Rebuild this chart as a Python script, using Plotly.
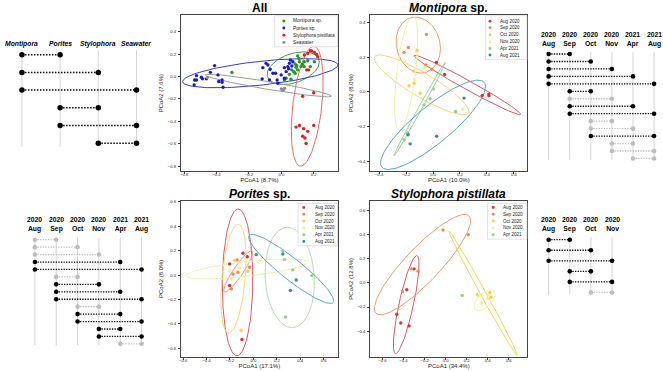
import numpy as np
import plotly.graph_objects as go
from itertools import combinations

W, H = 663, 371
FONT = "Liberation Sans, Arial, Helvetica, sans-serif"

# ====================== DATA ======================
# ---- "All" PCoA panel ----
all_groups = ["Montipora sp.", "Porites sp.", "Stylophora pistillata", "Seawater"]
all_colors = ["#1f9a26", "#1a1ac8", "#dd2020", "#8c8c8c"]
all_mont_x = [-0.305, 0.101, 0.112, 0.085, 0.091, 0.077, 0.085, 0.101, 0.122, 0.142, 0.142,
              0.163, 0.179, 0.204, 0.030, 0.019, 0.060, 0.064, 0.110, 0.095, 0.050, 0.130]
all_mont_y = [0.036, 0.184, 0.133, 0.112, 0.083, 0.044, 0.030, 0.060, 0.089, 0.133, 0.089,
              0.142, 0.089, 0.133, -0.015, -0.030, -0.024, 0.060, 0.160, 0.100, 0.020, 0.110]
all_por_x = [-0.412, -0.438, -0.524, -0.538, -0.494, -0.487, -0.463, -0.391, -0.366, -0.360,
             -0.366, -0.387, -0.535, -0.524, -0.114, -0.118, -0.094, -0.083, -0.069, -0.052,
             -0.036, -0.022, -0.026, -0.001, 0.019, 0.030, 0.050, 0.056, 0.040, 0.065, 0.071,
             0.045, 0.019, -0.073]
all_por_y = [0.098, 0.038, -0.030, -0.074, -0.006, -0.020, -0.020, 0.015, -0.030, -0.095,
             -0.050, -0.044, -0.030, 0.009, 0.080, -0.020, 0.118, 0.104, 0.065, 0.030,
             0.030, -0.060, -0.030, 0.015, -0.015, 0.044, 0.118, 0.148, 0.089, 0.095, 0.133,
             0.070, 0.080, -0.030]
all_sty_x = [0.163, 0.188, 0.204, 0.218, 0.225, 0.142, 0.157, 0.169, 0.132, 0.200, 0.091,
             0.112, 0.138, 0.163, 0.200, 0.132, 0.146, 0.153, 0.179]
all_sty_y = [0.207, 0.228, 0.216, 0.198, 0.178, 0.193, 0.060, 0.060, -0.175, -0.145, -0.451,
             -0.436, -0.465, -0.489, -0.436, -0.533, -0.548, -0.598, 0.231]
all_sea_x = [-0.457, 0.000, 0.012, 0.020, 0.008]
all_sea_y = [-0.009, -0.110, -0.120, -0.105, -0.125]
# ellipse parameters: (cx, cy, ax, ay, bx, by)
all_ellipses = [(0.074, 0.075, 0.161, 0.055, 0.0, 0.135),
                (-0.13, 0.03, 0.48, 0.074, 0.0, 0.107),
                (0.16, -0.265, 0.04, 0.535, 0.09, 0.0),
                (-0.08, -0.08, 0.39, -0.095, 0.0, 0.035)]

# ---- month labels/colours ----
months = ["Aug 2020", "Sep 2020", "Oct 2020", "Nov 2020", "Apr 2021", "Aug 2021"]
month_colors = ["#d0363f", "#f4874f", "#fdc85f", "#eef190", "#93d08e", "#2f8ea6"]

# ---- Montipora sp. panel ----
mont_x = [[0.025, 0.086, 0.365, 0.415, 0.415],
          [-0.049, -0.183, -0.215, -0.054, -0.010],
          [-0.146, -0.141, -0.178, -0.096, -0.120],
          [0.220, -0.060, -0.140],
          [0.002, -0.022, -0.067, 0.168, -0.190, -0.215],
          [0.230, 0.027, -0.185, -0.170]]
mont_y = [[0.170, 0.100, -0.021, -0.013, -0.023],
          [0.331, 0.256, 0.228, 0.155, 0.130],
          [0.120, 0.050, 0.035, -0.008, 0.240],
          [-0.100, 0.140, 0.070],
          [0.017, -0.040, -0.075, -0.113, -0.237, -0.276],
          [-0.036, -0.256, -0.247, -0.300]]
mont_ellipses = [(0.255, 0.04, 0.395, -0.169, 0.0, 0.03),
                 (-0.11, 0.27, 0.165, -0.02, 0.0, 0.16),
                 (-0.085, 0.04, 0.352, -0.153, 0.0, 0.08),
                 (-0.20, 0.11, 0.05, 0.33, 0.07, 0.0),
                 (-0.10, -0.10, 0.19, 0.27, 0.015, 0.0),
                 (0.0, -0.19, 0.39, 0.22, 0.0, 0.134)]

# ---- Porites sp. panel ----
por_x = [[-0.203, -0.089, -0.052, -0.203, -0.098],
         [-0.140, -0.174, -0.033, -0.189, -0.132],
         [-0.104, -0.047, -0.160],
         [-0.189, -0.203, -0.120],
         [0.251, 0.265, 0.336, 0.499, 0.274],
         [0.024, 0.251, 0.365, 0.316]]
por_y = [[0.091, 0.178, 0.150, -0.085, -0.527],
         [0.123, 0.009, 0.064, -0.113, 0.023],
         [-0.451, 0.031, 0.120],
         [-0.031, 0.037, 0.060],
         [0.199, 0.126, 0.042, -0.004, -0.343],
         [0.167, 0.172, -0.040, -0.126]]
por_ellipses = [(-0.135, -0.06, 0.005, 0.60, 0.13, 0.0),
                (-0.13, 0.03, 0.113, 0.17, 0.05, 0.0),
                (-0.17, -0.03, 0.04, 0.445, 0.10, 0.0),
                (-0.055, 0.05, 0.52, 0.055, 0.0, 0.06),
                (0.31, -0.02, -0.02, 0.41, 0.21, 0.0),
                (0.322, 0.05, 0.363, -0.26, 0.0, 0.11)]

# ---- Stylophora pistillata panel ----
sty_x = [[-0.369, -0.464, -0.426, -0.347, -0.300],
         [-0.325, -0.262, -0.410, -0.025, 0.215],
         [0.300, 0.420, 0.430],
         [0.322, 0.338, 0.400, 0.410],
         [0.158]]
sty_y = [[-0.058, -0.260, -0.332, -0.356, 0.115],
         [0.115, 0.096, -0.071, 0.436, 0.397],
         [-0.100, -0.080, -0.120],
         [-0.104, -0.167, -0.130, -0.100],
         [-0.104]]
sty_ellipses = [(-0.375, -0.18, 0.10, 0.405, 0.07, 0.0),
                (-0.22, 0.15, 0.457, 0.363, 0.0, 0.20),
                (0.355, -0.085, 0.323, -0.513, 0.03, 0.0),
                (0.37, -0.145, 0.10, 0.05, 0.0, 0.07)]

# ---- pairwise comparison panels ----
site_labels = ["Montipora", "Porites", "Stylophora", "Seawater"]
site_sig = [1, 1, 1, 1, 1, 1]
month_years = ["2020", "2020", "2020", "2020", "2021", "2021"]
month_names = ["Aug", "Sep", "Oct", "Nov", "Apr", "Aug"]
mont_sig = [1, 1, 1, 1, 1, 1, 0, 1, 1, 0, 0, 1, 0, 0, 0]
por_sig = [0, 0, 0, 1, 1, 0, 1, 1, 1, 0, 1, 1, 1, 1, 0]
sty_sig = [1, 1, 1, 1, 1, 0]

# ====================== FIGURE ======================
fig = go.Figure()
annotations = []
shapes = []


def px2fx(px):
    return px / W


def px2fy(py):
    return 1 - py / H


def ellipse_xy(p, n=120):
    cx, cy, ax, ay, bx, by = p
    t = np.linspace(0, 2 * np.pi, n)
    return cx + ax * np.cos(t) + bx * np.sin(t), cy + ay * np.cos(t) + by * np.sin(t)


def axis_names(i):
    return ("x" if i == 1 else f"x{i}"), ("y" if i == 1 else f"y{i}")


def add_pcoa(idx, xs, ys, ells, colors, ell_colors):
    xa, ya = axis_names(idx)
    for k, e in enumerate(ells):
        ex, ey = ellipse_xy(e)
        fig.add_trace(go.Scatter(x=ex, y=ey, mode="lines", xaxis=xa, yaxis=ya,
                                 line=dict(color=ell_colors[k], width=1), hoverinfo="skip"))
    for k in range(len(xs)):
        fig.add_trace(go.Scatter(x=xs[k], y=ys[k], mode="markers", xaxis=xa, yaxis=ya,
                                 marker=dict(color=colors[k], size=3.4, line=dict(width=0))))


def pcoa_axes(idx, box, xr, yr, xticks, yticks, xtitle, ytitle):
    x0, x1, y0, y1 = box
    common = dict(showline=True, mirror=True, linecolor="#444444", linewidth=0.8,
                  ticks="outside", ticklen=2, tickwidth=0.6, tickcolor="#444444",
                  showgrid=False, zeroline=False, tickformat=".1f",
                  tickfont=dict(size=4.2, family=FONT, color="#222"))
    xa = "xaxis" if idx == 1 else f"xaxis{idx}"
    ya = "yaxis" if idx == 1 else f"yaxis{idx}"
    yname = "y" if idx == 1 else f"y{idx}"
    xname = "x" if idx == 1 else f"x{idx}"
    fig.layout[xa] = dict(domain=[px2fx(x0), px2fx(x1)], range=xr, anchor=yname,
                          tickvals=xticks, ticklabelstandoff=-3,
                          title=dict(text=xtitle, standoff=0, font=dict(size=6, family=FONT, color="#222")),
                          **common)
    fig.layout[ya] = dict(domain=[px2fy(y1), px2fy(y0)], range=yr, anchor=xname,
                          tickvals=yticks, ticklabelstandoff=1,
                          title=dict(text=ytitle, standoff=3, font=dict(size=6, family=FONT, color="#222")),
                          **common)


def add_legend(box, mx, tx, rows, labels, colors, fs=4.6):
    x0, y0, x1, y1 = box
    shapes.append(dict(type="rect", xref="paper", yref="paper", x0=px2fx(x0), x1=px2fx(x1),
                       y0=px2fy(y1), y1=px2fy(y0), fillcolor="white",
                       line=dict(color="#d6d6d6", width=0.7), layer="above"))
    r = 1.5
    for lab, col, ry in zip(labels, colors, rows):
        shapes.append(dict(type="circle", xref="paper", yref="paper", x0=px2fx(mx - r), x1=px2fx(mx + r),
                           y0=px2fy(ry + r), y1=px2fy(ry - r), fillcolor=col, line=dict(width=0),
                           layer="above"))
        annotations.append(dict(x=px2fx(tx), y=px2fy(ry), xref="paper", yref="paper", text=lab,
                                showarrow=False, xanchor="left", yanchor="middle",
                                font=dict(size=fs, family=FONT, color="#222")))


def add_dumbbell(idx, labels, sig, c0, cs, r0, rs, box, label_y, msize, lw, fs):
    xa, ya = axis_names(idx)
    n = len(labels)
    pairs = list(combinations(range(n), 2))
    nrows = len(pairs)
    # vertical guide lines
    vx, vy = [], []
    for i in range(n):
        vx += [i, i, None]
        vy += [-0.25, nrows - 1 + 0.2, None]
    fig.add_trace(go.Scatter(x=vx, y=vy, mode="lines", xaxis=xa, yaxis=ya,
                             line=dict(color="#d4d4d4", width=1), hoverinfo="skip"))
    dash = f"{lw:.1f}px,{lw:.1f}px"
    for flag, col in [(0, "#bdbdbd"), (1, "black")]:
        lx, ly = [], []
        for r, (i, j) in enumerate(pairs):
            if sig[r] == flag:
                lx += [i, j, None]
                ly += [r, r, None]
        fig.add_trace(go.Scatter(x=lx, y=ly, mode="lines", xaxis=xa, yaxis=ya,
                                 line=dict(color=col, width=lw, dash=dash), hoverinfo="skip"))
        fig.add_trace(go.Scatter(x=lx, y=ly, mode="markers", xaxis=xa, yaxis=ya,
                                 marker=dict(color=col, size=msize, line=dict(width=0))))
    bx0, bx1, by0, by1 = box
    xak = "xaxis" + str(idx)
    yak = "yaxis" + str(idx)
    fig.layout[xak] = dict(domain=[px2fx(bx0), px2fx(bx1)], anchor=ya,
                           range=[(bx0 - c0) / cs, (bx1 - c0) / cs], visible=False)
    fig.layout[yak] = dict(domain=[px2fy(by1), px2fy(by0)], anchor=xa,
                           range=[(by1 - r0) / rs, (by0 - r0) / rs], visible=False)
    for i, lab in enumerate(labels):
        annotations.append(dict(x=i, y=px2fy(label_y), xref=xa, yref="paper", text=lab,
                                showarrow=False, xanchor="center", yanchor="middle",
                                font=dict(size=fs, family=FONT, color="black")))


# PCoA panels
add_pcoa(1, [all_mont_x, all_por_x, all_sty_x, all_sea_x], [all_mont_y, all_por_y, all_sty_y, all_sea_y],
         all_ellipses, all_colors, ["#3aa33f", "#3b3bc0", "#e86a6a", "#9a9a9a"])
add_pcoa(2, mont_x, mont_y, mont_ellipses, month_colors,
         ["#d95b62", "#f39a64", "#fbd47e", "#eef3a4", "#9bd197", "#5aa6c0"])
add_pcoa(3, por_x, por_y, por_ellipses, month_colors,
         ["#d95b62", "#f39a64", "#fbd47e", "#eef3a4", "#b3ddb0", "#5aa6c0"])
add_pcoa(4, sty_x, sty_y, sty_ellipses, month_colors[:5],
         ["#d95b62", "#f39a64", "#f7d45a", "#eef3a4"])

pcoa_axes(1, (179.3, 337, 13.3, 170), [-0.621, 0.35], [-0.844, 0.548],
          [-0.6, -0.4, -0.2, 0.0, 0.2], [-0.8, -0.6, -0.4, -0.2, 0.0, 0.2, 0.4],
          "PCoA1 (8.7%)", "PCoA2 (7.6%)")
pcoa_axes(2, (369.3, 527, 13.3, 170), [-0.467, 0.701], [-0.457, 0.442],
          [-0.4, -0.2, 0.0, 0.2, 0.4, 0.6], [-0.4, -0.2, 0.0, 0.2, 0.4],
          "PCoA1 (10.0%)", "PCoA2 (8.0%)")
pcoa_axes(3, (179.3, 337, 200, 356.7), [-0.62, 0.722], [-0.668, 0.606],
          [-0.6, -0.4, -0.2, 0.0, 0.2, 0.4, 0.6], [-0.6, -0.4, -0.2, 0.0, 0.2, 0.4, 0.6],
          "PCoA1 (17.1%)", "PCoA2 (8.0%)")
pcoa_axes(4, (369.3, 527, 200, 356.7), [-0.717, 0.777], [-0.611, 0.676],
          [-0.6, -0.4, -0.2, 0.0, 0.2, 0.4, 0.6], [-0.4, -0.2, 0.0, 0.2, 0.4, 0.6],
          "PCoA1 (34.4%)", "PCoA2 (12.8%)")

# legends
add_legend((273.5, 13.8, 336.5, 45), 282.7, 290, [19, 26.2, 33.4, 40.6], all_groups, all_colors, fs=4.8)
add_legend((485, 13.8, 526.5, 58), 489.5, 498, [19.3, 26, 33, 40, 46.7, 53.3], months, month_colors)
add_legend((297, 202.5, 336.5, 245), 302.7, 311.5, [206.7, 213.5, 220.3, 227.1, 233.9, 240.7],
           months, month_colors)
add_legend((487, 202.5, 526.5, 238.5), 492.7, 500.5, [206.7, 213.5, 220.3, 227.1, 233.9],
           months[:5], month_colors[:5])

# titles
titles = [("<b>All</b>", 258, 6), ("<b><i>Montipora</i> sp.</b>", 448, 6),
          ("<b><i>Porites</i> sp.</b>", 258, 193), ("<b><i>Stylophora pistillata</i></b>", 448, 193)]
for txt, tx, ty in titles:
    annotations.append(dict(x=px2fx(tx), y=px2fy(ty), xref="paper", yref="paper", text=txt,
                            showarrow=False, xanchor="center", yanchor="middle",
                            font=dict(size=12, family=FONT, color="black")))

# comparison panels
site_lab_txt = [f"<b><i>{s}</i></b>" for s in site_labels]
month_lab_txt = [f"<b>{y}</b><br><b>{m}</b>" for y, m in zip(month_years, month_names)]
add_dumbbell(5, site_lab_txt, site_sig, 20, 38.3, 53, 17.8, (2, 156, 44, 150), 42, 5.5, 1.5, 6.8)
add_dumbbell(6, month_lab_txt, mont_sig, 548.3, 21.15, 52.3, 7.5, (538, 663, 46, 162), 37.5, 4.6, 1.3, 6.8)
add_dumbbell(7, month_lab_txt, por_sig, 33, 21.4, 239, 7.48, (22, 152, 232, 350), 223.5, 4.6, 1.3, 6.8)
add_dumbbell(8, month_lab_txt[:4], sty_sig, 548.3, 21.2, 239, 10.6, (538, 663, 232, 300), 223.5, 4.6, 1.3, 6.8)

fig.update_layout(width=W, height=H, margin=dict(l=0, r=0, t=0, b=0),
                  plot_bgcolor="white", paper_bgcolor="white", showlegend=False,
                  annotations=annotations, shapes=shapes,
                  font=dict(family=FONT))
fig.write_html("out.html", config={"displayModeBar": False},
               post_script="document.body.style.margin='0';document.body.style.overflow='hidden';")
